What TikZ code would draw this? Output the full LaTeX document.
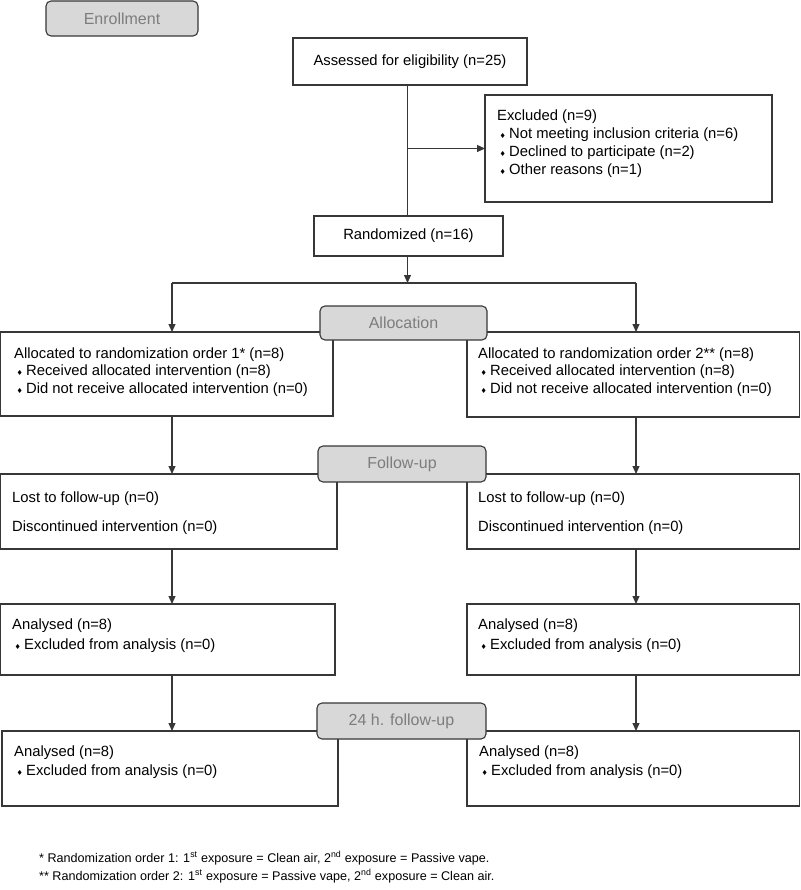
\documentclass[tikz,border=0pt]{standalone}
\usepackage{fontspec}
\setmainfont{Liberation Sans}
\newfontfamily\dejavu{DejaVu Sans}
\usetikzlibrary{arrows.meta}
\definecolor{linec}{RGB}{55,55,55}
\definecolor{tabfill}{RGB}{216,216,216}
\definecolor{tabtext}{RGB}{125,125,125}
\newcommand\bul{\hspace*{2.5pt}{\dejavu\fontsize{7}{7}\selectfont ♦}\hspace{3.2pt}}
\begin{document}
\begin{tikzpicture}[x=1pt,y=-1pt,
  box/.style={draw=linec, line width=1.1pt, anchor=north west, inner sep=0pt, outer sep=0pt},
  cbox/.style={draw=linec, line width=1.1pt, anchor=north west, inner sep=0pt, outer sep=0pt, font=\fontsize{14.8}{17.5}\selectfont},
  txt/.style={anchor=north west, inner sep=0pt, align=left, font=\fontsize{14.8}{17.5}\selectfont},
  tab/.style={draw=linec, fill=tabfill, line width=1.1pt, rounded corners=5pt, anchor=north west, inner sep=0pt, outer sep=0pt, text=tabtext, font=\fontsize{16}{19}\selectfont},
  arr/.style={draw=linec, line width=1.1pt, -{Triangle[length=8pt,width=7pt]}},
  ln/.style={draw=linec, line width=1.1pt},
  foot/.style={anchor=west, inner sep=0pt, font=\fontsize{12.6}{15}\selectfont}]
\fill[white] (0,0) rectangle (800,890);
\useasboundingbox (0,0) rectangle (800,890);
% column coordinates
\coordinate (cM) at (407.5,0);
\coordinate (cL) at (172,0);
\coordinate (cR) at (636,0);
\coordinate (split) at (407.5,283);
% boxes
\node[cbox, minimum width=234pt, minimum height=47pt] (assess) at (293,38) {Assessed for eligibility (n=25)};
\node[box, minimum width=287pt, minimum height=107pt] (excl) at (485,95) {};
\node[cbox, minimum width=189pt, minimum height=40pt] (rand) at (314,216) {Randomized (n=16)};
\node[box, minimum width=332.5pt, minimum height=84pt] (allocL) at (0.5,332) {};
\node[box, minimum width=332.5pt, minimum height=85pt] (allocR) at (467,332) {};
\node[box, minimum width=336.5pt, minimum height=75pt] (lostL) at (0.5,474) {};
\node[box, minimum width=332.5pt, minimum height=75pt] (lostR) at (467,474) {};
\node[box, minimum width=334.5pt, minimum height=71pt] (anaL) at (0.5,604) {};
\node[box, minimum width=332.5pt, minimum height=71pt] (anaR) at (467,604) {};
\node[box, minimum width=336pt, minimum height=75pt] (finL) at (2,731) {};
\node[box, minimum width=332.5pt, minimum height=75pt] (finR) at (467,731) {};
% texts
\node[txt, font=\fontsize{14.8}{18}\selectfont] (exclT) at (497,109.5) {Excluded (n=9)\\\bul Not meeting inclusion criteria (n=6)\\\bul Declined to participate (n=2)\\\bul Other reasons (n=1)};
\node[txt] (allocLT) at (14,347.5) {Allocated to randomization order 1* (n=8)\\\bul Received allocated intervention (n=8)\\\bul Did not receive allocated intervention (n=0)};
\node[txt] (allocRT) at (478,347.5) {Allocated to randomization order 2** (n=8)\\\bul Received allocated intervention (n=8)\\\bul Did not receive allocated intervention (n=0)};
\node[txt, font=\fontsize{14.8}{29}\selectfont] (lostLT) at (12,491.5) {Lost to follow-up (n=0)\\Discontinued intervention (n=0)};
\node[txt, font=\fontsize{14.8}{29}\selectfont] (lostRT) at (478,491.5) {Lost to follow-up (n=0)\\Discontinued intervention (n=0)};
\node[txt, font=\fontsize{14.8}{20}\selectfont] (anaLT) at (12,618.5) {Analysed (n=8)\\\bul Excluded from analysis (n=0)};
\node[txt, font=\fontsize{14.8}{20}\selectfont] (anaRT) at (478,618.5) {Analysed (n=8)\\\bul Excluded from analysis (n=0)};
\node[txt, font=\fontsize{14.8}{19.5}\selectfont] (finLT) at (14,745.5) {Analysed (n=8)\\\bul Excluded from analysis (n=0)};
\node[txt, font=\fontsize{14.8}{19.5}\selectfont] (finRT) at (479,745.5) {Analysed (n=8)\\\bul Excluded from analysis (n=0)};
% connectors
\draw[ln] (assess.south -| cM) -- (rand.north -| cM);
\draw[arr] (cM |- excl.west) -- (excl.west);
\draw[arr] (rand.south -| cM) -- (split);
\draw[ln] (cL |- split) -- (cR |- split);
\draw[arr] (cL |- split) -- (allocL.north -| cL);
\draw[arr] (cR |- split) -- (allocR.north -| cR);
\draw[arr] (allocL.south -| cL) -- (lostL.north -| cL);
\draw[arr] (allocR.south -| cR) -- (lostR.north -| cR);
\draw[arr] (lostL.south -| cL) -- (anaL.north -| cL);
\draw[arr] (lostR.south -| cR) -- (anaR.north -| cR);
\draw[arr] (anaL.south -| cL) -- (finL.north -| cL);
\draw[arr] (anaR.south -| cR) -- (finR.north -| cR);
% stage tabs
\node[tab, minimum width=152pt, minimum height=35pt] (tEnroll) at (46,1) {Enrollment};
\node[tab, minimum width=167pt, minimum height=34pt] (tAlloc) at (320,306) {Allocation};
\node[tab, minimum width=168pt, minimum height=36pt] (tFollow) at (318,446) {Follow-up};
\node[tab, minimum width=169pt, minimum height=36pt] (t24) at (317,703) {24 h. follow-up};
% footnotes
\node[foot] (fn1) at (39,858) {* Randomization order 1: 1\textsuperscript{st} exposure = Clean air, 2\textsuperscript{nd} exposure = Passive vape.};
\node[foot] (fn2) at (39,876) {** Randomization order 2: 1\textsuperscript{st} exposure = Passive vape, 2\textsuperscript{nd} exposure = Clean air.};
\end{tikzpicture}
\end{document}
